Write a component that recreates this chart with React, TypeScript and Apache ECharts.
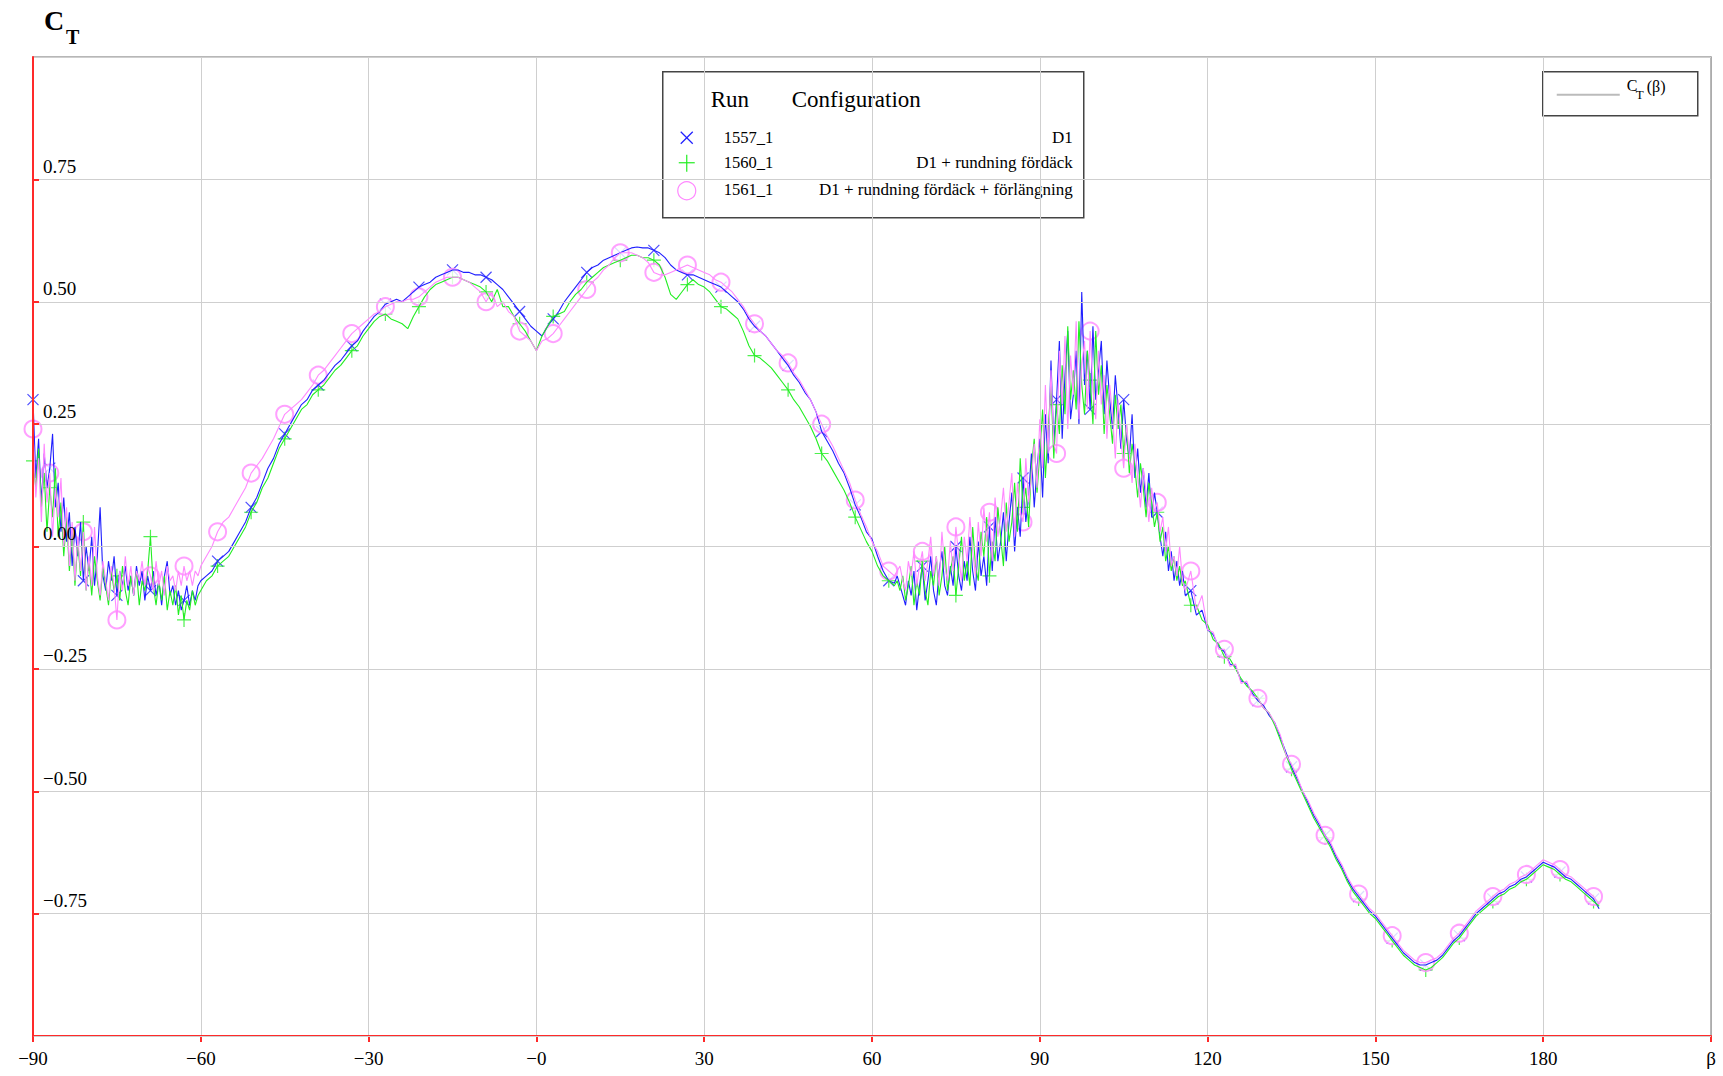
import React, { useEffect, useRef } from 'react';
import * as echarts from 'echarts';

// β sampling: finer (0.5°) where the signal is noisy
const betaSegments: [number, number, number][] = [
  [-90, -60.5, 0.5],
  [-60, 63, 1],
  [64, 115.5, 0.5],
  [116, 190, 1],
];
const beta: number[] = [];
for (const [a, b, s] of betaSegments) {
  for (let k = 0; a + k * s <= b + 1e-9; k++) beta.push(a + k * s);
}

// Run 1557_1 (D1) — blue
const run1557: number[] = [
  // -90 … -60.5
  0.30, 0.14, 0.22, 0.09, 0.19, 0.12, 0.16, 0.23, 0.08, 0.13,
  0.03, 0.10, 0.01, 0.07, -0.04, 0.04, -0.02, 0.05, -0.07, 0.00,
  -0.05, 0.02, -0.08, -0.02, 0.08, -0.06, -0.09, -0.03, -0.07, -0.02,
  -0.10, -0.05, -0.08, -0.04, -0.09, -0.06, -0.10, -0.04, -0.08, -0.05,
  -0.11, -0.06, -0.09, -0.05, -0.10, -0.07, -0.12, -0.06, -0.03, -0.10,
  -0.08, -0.12, -0.09, -0.13, -0.11, -0.08, -0.12, -0.09, -0.11, -0.08,
  // -60 … 63
  -0.07, -0.06, -0.05, -0.03, -0.02, -0.01, 0.01, 0.03, 0.05, 0.08,
  0.10, 0.13, 0.16, 0.18, 0.21, 0.23, 0.25, 0.27, 0.29, 0.30,
  0.32, 0.33, 0.34, 0.355, 0.37, 0.38, 0.395, 0.41, 0.42, 0.44,
  0.455, 0.47, 0.48, 0.495, 0.50, 0.505, 0.50, 0.51, 0.52, 0.53,
  0.535, 0.54, 0.55, 0.555, 0.56, 0.565, 0.565, 0.56, 0.56, 0.555,
  0.555, 0.55, 0.545, 0.535, 0.525, 0.51, 0.495, 0.48, 0.465, 0.45,
  0.44, 0.43, 0.45, 0.465, 0.48, 0.50, 0.515, 0.53, 0.545, 0.56,
  0.57, 0.575, 0.585, 0.59, 0.595, 0.60, 0.605, 0.61, 0.612, 0.61,
  0.61, 0.605, 0.60, 0.59, 0.575, 0.565, 0.56, 0.555, 0.555, 0.55,
  0.545, 0.54, 0.535, 0.53, 0.52, 0.51, 0.50, 0.485, 0.465, 0.45,
  0.44, 0.43, 0.415, 0.40, 0.385, 0.37, 0.35, 0.335, 0.315, 0.30,
  0.275, 0.235, 0.215, 0.195, 0.17, 0.15, 0.12, 0.085, 0.06, 0.03,
  0.015, -0.02, -0.05, -0.07,
  // 64 … 115.5
  -0.075, -0.06, -0.08, -0.10, -0.12, -0.07, -0.10, -0.05, -0.13, -0.08,
  -0.04, -0.11, -0.07, -0.02, -0.09, -0.12, -0.05, -0.01, -0.08, -0.10,
  -0.04, -0.08, 0.00, -0.06, -0.09, -0.03, -0.07, 0.02, -0.05, -0.09,
  0.01, -0.06, -0.02, -0.08, 0.04, -0.05, 0.06, -0.03, 0.01, 0.07,
  -0.03, 0.05, 0.11, -0.01, 0.08, 0.02, 0.14, 0.05, 0.10, 0.19,
  0.08, 0.16, 0.22, 0.10, 0.27, 0.17, 0.38, 0.21, 0.30, 0.42,
  0.22, 0.35, 0.44, 0.26, 0.31, 0.40, 0.25, 0.52, 0.33, 0.40,
  0.28, 0.45, 0.30, 0.36, 0.42, 0.27, 0.38, 0.30, 0.24, 0.35,
  0.28, 0.20, 0.30, 0.22, 0.18, 0.27, 0.14, 0.20, 0.11, 0.16,
  0.08, 0.15, 0.06, 0.11, 0.07, 0.02, -0.02, 0.03, -0.05, -0.01,
  -0.07, -0.03, -0.08, -0.05,
  // 116 … 190
  -0.10, -0.09, -0.14, -0.13,
  -0.17, -0.18, -0.205, -0.215, -0.24, -0.245, -0.275, -0.28, -0.30, -0.315,
  -0.325, -0.345, -0.36, -0.39, -0.42, -0.45, -0.475, -0.50, -0.525, -0.55,
  -0.57, -0.59, -0.61, -0.635, -0.655, -0.68, -0.70, -0.715, -0.73, -0.745,
  -0.755, -0.77, -0.785, -0.80, -0.815, -0.83, -0.84, -0.85, -0.855, -0.855,
  -0.85, -0.845, -0.835, -0.82, -0.805, -0.795, -0.78, -0.765, -0.75, -0.74,
  -0.73, -0.72, -0.71, -0.705, -0.695, -0.69, -0.68, -0.675, -0.665, -0.655,
  -0.645, -0.65, -0.655, -0.665, -0.675, -0.68, -0.69, -0.70, -0.71, -0.72,
  -0.74,
];

// Run 1560_1 (D1 + rundning fördäck) — green
const run1560: number[] = [
  // -90 … -60.5
  0.175, 0.12, 0.20, 0.08, 0.15, 0.03, 0.12, 0.06, 0.16, 0.02,
  0.09, -0.02, 0.06, -0.05, 0.03, -0.08, 0.01, -0.06, 0.05, -0.09,
  -0.03, -0.10, -0.02, -0.07, -0.11, -0.04, -0.08, -0.12, -0.05, -0.09,
  -0.06, -0.11, -0.04, -0.09, -0.12, -0.06, -0.10, -0.05, -0.12, -0.07,
  -0.09, -0.05, 0.02, -0.08, -0.12, -0.07, -0.11, -0.06, -0.13, -0.09,
  -0.12, -0.08, -0.14, -0.10, -0.15, -0.11, -0.13, -0.09, -0.12, -0.10,
  // -60 … 63
  -0.09, -0.07, -0.06, -0.04, -0.03, -0.02, 0.00, 0.02, 0.04, 0.07,
  0.09, 0.12, 0.14, 0.17, 0.20, 0.22, 0.24, 0.26, 0.28, 0.29,
  0.31, 0.32, 0.33, 0.345, 0.36, 0.37, 0.385, 0.40, 0.41, 0.43,
  0.445, 0.46, 0.47, 0.475, 0.465, 0.46, 0.455, 0.445, 0.47, 0.49,
  0.51, 0.525, 0.535, 0.54, 0.545, 0.55, 0.55, 0.545, 0.54, 0.535,
  0.53, 0.52, 0.50, 0.525, 0.49, 0.49, 0.47, 0.455, 0.44, 0.42,
  0.40, 0.43, 0.45, 0.47, 0.475, 0.48, 0.50, 0.515, 0.525, 0.54,
  0.55, 0.56, 0.57, 0.575, 0.58, 0.585, 0.59, 0.595, 0.595, 0.59,
  0.59, 0.585, 0.575, 0.55, 0.515, 0.505, 0.52, 0.535, 0.545, 0.535,
  0.53, 0.52, 0.505, 0.49, 0.485, 0.475, 0.465, 0.44, 0.41, 0.39,
  0.385, 0.375, 0.365, 0.35, 0.335, 0.32, 0.30, 0.285, 0.265, 0.245,
  0.22, 0.19, 0.175, 0.155, 0.135, 0.115, 0.09, 0.06, 0.035, 0.01,
  -0.01, -0.04, -0.06, -0.07,
  // 64 … 115.5
  -0.08, -0.07, -0.09, -0.06, -0.11, -0.08, -0.04, -0.12, -0.07, -0.10,
  -0.03, -0.09, -0.12, -0.05, -0.08, -0.02, -0.10, -0.06, 0.00, -0.09,
  -0.05, -0.02, -0.10, -0.04, 0.02, -0.07, -0.03, -0.08, 0.04, -0.04,
  -0.07, 0.03, -0.02, 0.06, -0.06, 0.01, -0.03, 0.08, 0.02, -0.04,
  0.09, 0.01, 0.05, 0.13, 0.03, 0.18, 0.08, 0.12, 0.04, 0.16,
  0.22, 0.11, 0.19, 0.28, 0.14, 0.24, 0.33, 0.18, 0.29, 0.23,
  0.37, 0.27, 0.45, 0.30, 0.36, 0.28, 0.46, 0.33, 0.27, 0.40,
  0.34, 0.25, 0.44, 0.31, 0.37, 0.23, 0.33, 0.27, 0.21, 0.31,
  0.24, 0.29, 0.19, 0.25, 0.15, 0.21, 0.16, 0.10, 0.17, 0.12,
  0.06, 0.13, 0.09, 0.04, 0.07, 0.01, 0.04, -0.03, 0.00, -0.05,
  -0.02, -0.07, -0.04, -0.08,
  // 116 … 190
  -0.07, -0.12, -0.12, -0.15,
  -0.16, -0.19, -0.20, -0.225, -0.23, -0.25, -0.27, -0.285, -0.295, -0.31,
  -0.33, -0.34, -0.365, -0.395, -0.425, -0.455, -0.48, -0.505, -0.53, -0.555,
  -0.575, -0.595, -0.615, -0.64, -0.66, -0.685, -0.705, -0.72, -0.735, -0.75,
  -0.76, -0.775, -0.79, -0.805, -0.82, -0.835, -0.845, -0.855, -0.86, -0.865,
  -0.86, -0.85, -0.84, -0.825, -0.81, -0.80, -0.785, -0.77, -0.755, -0.745,
  -0.735, -0.725, -0.715, -0.71, -0.70, -0.695, -0.685, -0.68, -0.67, -0.66,
  -0.65, -0.655, -0.66, -0.67, -0.68, -0.685, -0.695, -0.705, -0.715, -0.725,
  -0.735,
];

// Run 1561_1 (D1 + rundning fördäck + förlängning) — pink
const run1561: number[] = [
  // -90 … -60.5
  0.24, 0.10, 0.18, 0.05, 0.21, 0.09, 0.15, 0.02, 0.12, 0.06,
  0.14, 0.00, 0.08, -0.04, 0.05, -0.07, 0.02, -0.05, 0.03, -0.09,
  -0.02, -0.08, 0.04, -0.06, -0.10, -0.03, -0.07, -0.11, -0.04, -0.08,
  -0.15, -0.05, -0.09, -0.02, -0.08, -0.04, -0.10, -0.05, -0.07, -0.03,
  -0.08, -0.04, -0.06, -0.09, -0.03, -0.08, -0.05, -0.10, -0.04, -0.07,
  -0.06, -0.09, -0.05, -0.08, -0.04, -0.07, -0.05, -0.08, -0.05, -0.06,
  // -60 … 63
  -0.04, -0.02, 0.00, 0.03, 0.05, 0.06, 0.08, 0.10, 0.12, 0.15,
  0.165, 0.18, 0.20, 0.22, 0.245, 0.27, 0.28, 0.29, 0.30, 0.315,
  0.33, 0.35, 0.36, 0.375, 0.39, 0.405, 0.42, 0.435, 0.445, 0.455,
  0.465, 0.475, 0.48, 0.49, 0.495, 0.50, 0.50, 0.505, 0.505, 0.51,
  0.52, 0.53, 0.54, 0.545, 0.55, 0.55, 0.55, 0.545, 0.54, 0.53,
  0.52, 0.50, 0.52, 0.49, 0.50, 0.48, 0.47, 0.44, 0.43, 0.42,
  0.40, 0.42, 0.425, 0.435, 0.45, 0.465, 0.48, 0.495, 0.51, 0.525,
  0.54, 0.55, 0.565, 0.575, 0.59, 0.60, 0.60, 0.60, 0.595, 0.59,
  0.58, 0.56, 0.555, 0.555, 0.56, 0.565, 0.57, 0.575, 0.57, 0.565,
  0.56, 0.555, 0.545, 0.54, 0.53, 0.52, 0.505, 0.49, 0.47, 0.455,
  0.44, 0.43, 0.415, 0.40, 0.39, 0.375, 0.355, 0.34, 0.32, 0.30,
  0.275, 0.25, 0.225, 0.205, 0.18, 0.155, 0.13, 0.095, 0.065, 0.04,
  0.01, -0.01, -0.04, -0.05,
  // 64 … 115.5
  -0.06, -0.05, -0.04, -0.07, -0.09, -0.03, -0.06, -0.01, -0.08, -0.04,
  -0.01, -0.07, -0.03, 0.02, -0.06, -0.02, -0.08, 0.03, -0.04, -0.07,
  0.01, -0.05, 0.04, -0.02, -0.07, 0.02, -0.03, 0.06, -0.01, -0.06,
  0.05, -0.02, 0.08, 0.01, 0.07, -0.03, 0.10, 0.02, 0.06, 0.12,
  0.03, 0.09, 0.15, 0.02, 0.13, 0.07, 0.05, 0.18, 0.09, 0.14,
  0.21, 0.12, 0.26, 0.16, 0.33, 0.19, 0.36, 0.21, 0.19, 0.40,
  0.29, 0.43, 0.24, 0.39, 0.31, 0.46, 0.26, 0.37, 0.42, 0.28,
  0.44, 0.32, 0.26, 0.40, 0.29, 0.35, 0.22, 0.33, 0.27, 0.18,
  0.30, 0.22, 0.16, 0.25, 0.19, 0.13, 0.21, 0.14, 0.08, 0.16,
  0.11, 0.05, 0.12, 0.07, 0.09, 0.03, 0.06, -0.01, 0.04, -0.04,
  -0.02, -0.06, 0.00, -0.07,
  // 116 … 190
  -0.09, -0.05, -0.13, -0.10,
  -0.17, -0.175, -0.21, -0.21, -0.245, -0.24, -0.28, -0.275, -0.305, -0.31,
  -0.33, -0.34, -0.36, -0.385, -0.425, -0.445, -0.47, -0.50, -0.52, -0.545,
  -0.565, -0.59, -0.605, -0.63, -0.65, -0.675, -0.695, -0.71, -0.725, -0.74,
  -0.75, -0.765, -0.78, -0.795, -0.81, -0.825, -0.835, -0.845, -0.85, -0.85,
  -0.845, -0.84, -0.83, -0.815, -0.80, -0.79, -0.775, -0.76, -0.745, -0.735,
  -0.725, -0.715, -0.705, -0.70, -0.69, -0.685, -0.675, -0.67, -0.66, -0.65,
  -0.64, -0.645, -0.65, -0.66, -0.67, -0.675, -0.685, -0.695, -0.705, -0.715,
  -0.73,
];

const runNames = ['1557_1', '1560_1', '1561_1'];
const configNames = ['D1', 'D1 + rundning fördäck', 'D1 + rundning fördäck + förlängning'];
const xTicks = [-90, -60, -30, 0, 30, 60, 90, 120, 150, 180, 210];
const yTicks = [-1, -0.75, -0.5, -0.25, 0, 0.25, 0.5, 0.75, 1];

const BLUE = '#1f1fff';
const GREEN = '#22ee22';
const PINK = '#ff88ff';
const RED = '#ff2a2a';
const GRID = '#cfcfcf';
const FONT = 'Liberation Serif';

const CROSS = 'path://M0,0L10,10M10,0L0,10';
const PLUS = 'path://M5,0L5,10M0,5L10,5';

function pairs(values: number[]) {
  return beta.map((b, i) => [b, values[i]]);
}
function markerPairs(values: number[]) {
  return beta
    .map((b, i) => [b, values[i]])
    .filter(([b]) => b === beta[0] || (Number.isInteger(b) && ((b % 6) + 6) % 6 === 3));
}
function minus(s: string) {
  return s.replace('-', '\u2212');
}

export default function App() {
  const ref = useRef<HTMLDivElement>(null);
  useEffect(() => {
    document.body.style.margin = '0';
    const chart = echarts.init(ref.current!, undefined, { renderer: 'svg' });
    const lineSeries = (name: string, data: number[], color: string) => ({
      name,
      type: 'line',
      data: pairs(data),
      showSymbol: false,
      symbol: 'none',
      silent: true,
      lineStyle: { color, width: 1.1 },
      itemStyle: { color },
    });
    const markSeries = (name: string, data: number[], color: string, symbol: string, size: number) => ({
      name: name + '_m',
      type: 'scatter',
      data: markerPairs(data),
      symbol,
      symbolSize: size,
      silent: true,
      itemStyle: { color: symbol === 'emptyCircle' ? color : 'rgba(0,0,0,0)', borderColor: color, borderWidth: 1.2 },
    });
    const legendFont = { fontFamily: FONT, fill: '#000' };
    chart.setOption({
      animation: false,
      backgroundColor: '#fff',
      grid: { left: 33, right: 12, top: 57, bottom: 40, containLabel: false },
      xAxis: [
        {
          type: 'value',
          min: -90,
          max: 210,
          interval: 30,
          position: 'bottom',
          axisLine: { show: true, onZero: false, lineStyle: { color: RED, width: 2 } },
          axisTick: { show: true, inside: false, length: 6, lineStyle: { color: RED, width: 2 } },
          splitLine: { show: true, lineStyle: { color: GRID, width: 1 } },
          axisLabel: {
            show: true,
            showMinLabel: true,
            showMaxLabel: true,
            margin: 13,
            fontFamily: FONT,
            fontSize: 19,
            color: '#000',
            formatter: (v: number) => {
              if (v === xTicks[xTicks.length - 1]) return 'β';
              if (v === 0) return '\u22120';
              return minus(String(v));
            },
          },
        },
        {
          type: 'value',
          min: -90,
          max: 210,
          interval: 30,
          position: 'top',
          axisLine: { show: true, onZero: false, lineStyle: { color: '#a0a0a0', width: 1.5 } },
          axisTick: { show: false },
          splitLine: { show: false },
          axisLabel: { show: false },
        },
      ],
      yAxis: [
        {
          type: 'value',
          min: yTicks[0],
          max: yTicks[yTicks.length - 1],
          interval: 0.25,
          position: 'left',
          z: 5,
          axisLine: { show: true, onZero: false, lineStyle: { color: RED, width: 2 } },
          axisTick: { show: true, inside: true, length: 6, lineStyle: { color: RED, width: 2 } },
          splitLine: { show: true, lineStyle: { color: GRID, width: 1 } },
          axisLabel: {
            show: true,
            inside: true,
            margin: 10,
            fontFamily: FONT,
            fontSize: 19,
            color: '#000',
            verticalAlign: 'bottom',
            lineHeight: 26,
            showMinLabel: false,
            showMaxLabel: false,
            formatter: (v: number) => (Math.abs(v) >= 1 ? '' : minus(v.toFixed(2))),
          },
        },
        {
          type: 'value',
          min: yTicks[0],
          max: yTicks[yTicks.length - 1],
          interval: 0.25,
          position: 'right',
          axisLine: { show: true, onZero: false, lineStyle: { color: '#a0a0a0', width: 1.5 } },
          axisTick: { show: true, inside: true, length: 12, lineStyle: { color: '#a0a0a0', width: 1 } },
          splitLine: { show: false },
          axisLabel: { show: false },
        },
      ],
      series: [
        lineSeries(runNames[0], run1557, BLUE),
        lineSeries(runNames[1], run1560, GREEN),
        lineSeries(runNames[2], run1561, PINK),
        markSeries(runNames[0], run1557, BLUE, CROSS, 11),
        markSeries(runNames[1], run1560, GREEN, PLUS, 14),
        markSeries(runNames[2], run1561, PINK, 'emptyCircle', 17),
      ],
      graphic: [
        { type: 'text', left: 44, top: 6, style: { text: 'C', font: `bold 28px "${FONT}"`, fill: '#000' } },
        { type: 'text', left: 66, top: 27, style: { text: 'T', font: `bold 20px "${FONT}"`, fill: '#000' } },
        {
          type: 'group',
          left: 662,
          top: 71,
          children: [
            { type: 'rect', shape: { x: 0, y: 0, width: 421, height: 146 }, style: { fill: '#fff', stroke: '#444', lineWidth: 1.5 } },
            { type: 'text', x: 48, y: 28, style: { ...legendFont, text: 'Run', fontSize: 23, verticalAlign: 'middle' } },
            { type: 'text', x: 129, y: 28, style: { ...legendFont, text: 'Configuration', fontSize: 23, verticalAlign: 'middle' } },
            { type: 'text', x: 61, y: 66, style: { ...legendFont, text: runNames[0], fontSize: 16.5, verticalAlign: 'middle' } },
            { type: 'text', x: 61, y: 91, style: { ...legendFont, text: runNames[1], fontSize: 16.5, verticalAlign: 'middle' } },
            { type: 'text', x: 61, y: 118, style: { ...legendFont, text: runNames[2], fontSize: 16.5, verticalAlign: 'middle' } },
            { type: 'text', x: 410, y: 66, style: { ...legendFont, text: configNames[0], fontSize: 17, align: 'right', verticalAlign: 'middle' } },
            { type: 'text', x: 410, y: 91, style: { ...legendFont, text: configNames[1], fontSize: 17, align: 'right', verticalAlign: 'middle' } },
            { type: 'text', x: 410, y: 118, style: { ...legendFont, text: configNames[2], fontSize: 17, align: 'right', verticalAlign: 'middle' } },
            { type: 'line', shape: { x1: 18, y1: 60, x2: 30, y2: 72 }, style: { stroke: BLUE, lineWidth: 1.2 } },
            { type: 'line', shape: { x1: 30, y1: 60, x2: 18, y2: 72 }, style: { stroke: BLUE, lineWidth: 1.2 } },
            { type: 'line', shape: { x1: 24, y1: 83, x2: 24, y2: 100 }, style: { stroke: GREEN, lineWidth: 1.2 } },
            { type: 'line', shape: { x1: 16, y1: 91, x2: 32, y2: 91 }, style: { stroke: GREEN, lineWidth: 1.2 } },
            { type: 'circle', shape: { cx: 24, cy: 119, r: 9 }, style: { fill: 'none', stroke: PINK, lineWidth: 1.2 } },
          ],
        },
        {
          type: 'group',
          left: 1542,
          top: 71,
          children: [
            { type: 'rect', shape: { x: 0, y: 0, width: 155, height: 44 }, style: { fill: '#fff', stroke: '#444', lineWidth: 1.5 } },
            { type: 'line', shape: { x1: 14, y1: 23, x2: 77, y2: 23 }, style: { stroke: '#bbbbbb', lineWidth: 2 } },
            { type: 'text', x: 84, y: 14, style: { ...legendFont, text: 'C', fontSize: 16, verticalAlign: 'middle' } },
            { type: 'text', x: 93, y: 23, style: { ...legendFont, text: 'T', fontSize: 13, verticalAlign: 'middle' } },
            { type: 'text', x: 104, y: 15, style: { ...legendFont, text: '(β)', fontSize: 16, verticalAlign: 'middle' } },
          ],
        },
      ],
    });
    return () => chart.dispose();
  }, []);
  return <div ref={ref} style={{ position: 'absolute', left: 0, top: 0, width: 1723, height: 1076 }} />;
}
